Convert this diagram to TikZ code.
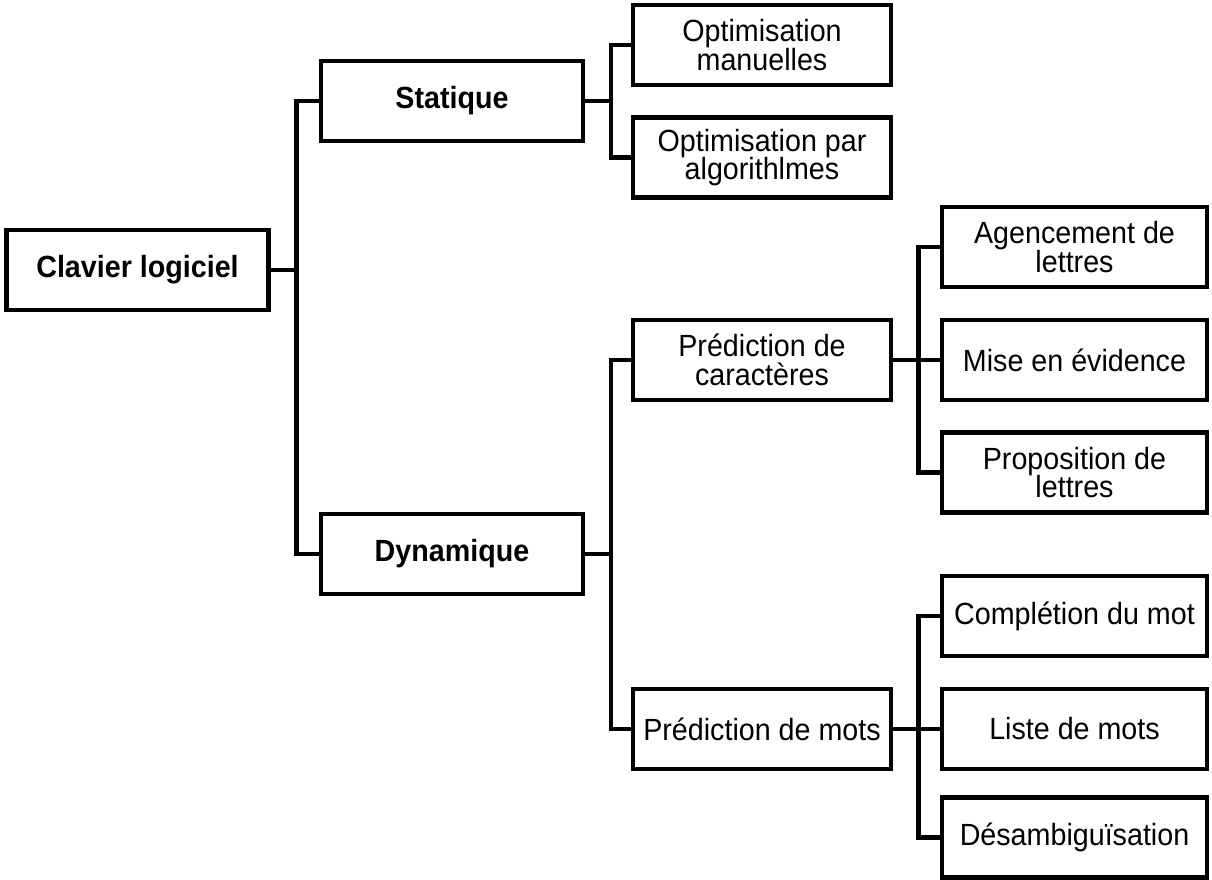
\documentclass[tikz,border=0pt]{standalone}
\usepackage{fontspec}
\setmainfont{Liberation Sans}[FakeStretch=0.935]
\begin{document}
\begin{tikzpicture}[x=0.75pt,y=-0.75pt,
  box/.style={draw, line width=3.4pt, align=center, inner sep=0pt,
    font=\fontsize{23pt}{21.6pt}\selectfont, minimum height=60pt},
  heading/.style={font=\fontsize{23pt}{21.6pt}\selectfont\bfseries},
  wide/.style={box, minimum width=196.5pt},
  mid/.style={box, minimum width=193.5pt},
  leaf/.style={box, minimum width=199pt},
  link/.style={line width=3.4pt}
]
\useasboundingbox (0,0) rectangle (1212,879);

% root
\node[wide, heading] (clav) at (137.5,270) {Clavier logiciel};

% first level
\node[wide, heading] (stat) at (452,101) {Statique};
\node[wide, heading] (dyn) at (452,554) {Dynamique};

% second level
\node[mid] (om) at (762,45) {Optimisation\\manuelles};
\node[mid] (oa) at (762,157.5) {Optimisation par\\algorithlmes};
\node[mid] (pc) at (762,360) {Prédiction de\\caractères};
\node[mid] (pm) at (762,729) {Prédiction de mots};

% third level
\node[leaf] (ag) at (1074.5,247) {Agencement de\\lettres};
\node[leaf] (me) at (1074.5,360) {Mise en évidence};
\node[leaf] (pl) at (1074.5,472.5) {Proposition de\\lettres};
\node[leaf] (cm) at (1074.5,616) {Complétion du mot};
\node[leaf] (lm) at (1074.5,729) {Liste de mots};
\node[leaf] (da) at (1074.5,837.5) {Désambiguïsation};

% elbow connectors
\draw[link] (clav.east) -- ++(25.5,0) coordinate (j1) |- (stat.west);
\draw[link] (j1) |- (dyn.west);
\draw[link] (stat.east) -- ++(25.5,0) coordinate (j2) |- (om.west);
\draw[link] (j2) |- (oa.west);
\draw[link] (dyn.east) -- ++(25.5,0) coordinate (j3) |- (pc.west);
\draw[link] (j3) |- (pm.west);
\draw[link] (pc.east) -- ++(25,0) coordinate (j4) |- (ag.west);
\draw[link] (j4) |- (pl.west);
\draw[link] (pc.east) -- (me.west);
\draw[link] (pm.east) -- ++(25,0) coordinate (j5) |- (cm.west);
\draw[link] (j5) |- (da.west);
\draw[link] (pm.east) -- (lm.west);
\end{tikzpicture}
\end{document}
